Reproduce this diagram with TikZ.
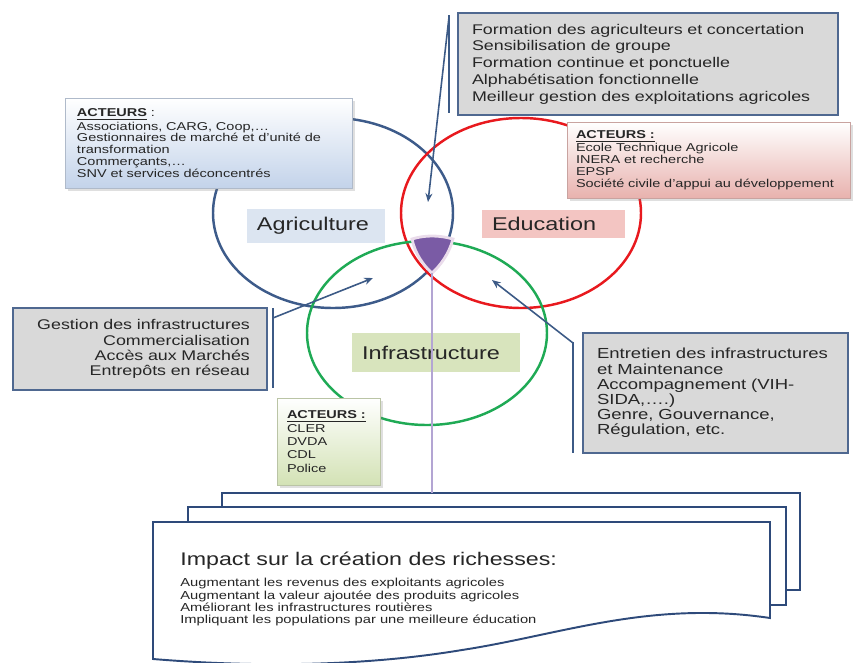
\documentclass[tikz,border=0pt]{standalone}
\usepackage{fontspec}
\setmainfont{Liberation Sans}[FakeStretch=1.27]
\usepackage{xcolor}
\usepackage{tikz}
\usetikzlibrary{shapes,arrows,positioning,calc,shadows,arrows.meta}

\definecolor{agriblue}{HTML}{3D5B8A}
\definecolor{edured}{HTML}{E8191E}
\definecolor{infragreen}{HTML}{1FAA55}
\definecolor{linkblue}{HTML}{3C5A86}
\definecolor{boxgray}{HTML}{D9D9D9}
\definecolor{boxrim}{HTML}{4F6890}
\definecolor{agrifill}{HTML}{DCE5F1}
\definecolor{edufill}{HTML}{F3C5C2}
\definecolor{infrafill}{HTML}{D8E4BD}
\definecolor{agriact}{HTML}{C3D3EA}
\definecolor{eduact}{HTML}{E8B2AE}
\definecolor{infraact}{HTML}{D3E2B5}
\definecolor{corepurple}{HTML}{7A5BA5}
\definecolor{corerim}{HTML}{EADCEB}
\definecolor{stemlilac}{HTML}{B3A5D3}
\definecolor{docrim}{HTML}{2E4A7A}

\begin{document}
\begin{tikzpicture}[x=0.02cm, y=-0.02cm, font=\fontsize{8}{9.5}\selectfont, text=black!85,
    ring/.style={line width=1.4pt},
    venntag/.style={anchor=north west, align=left, inner xsep=0.2cm, inner ysep=0pt, outer sep=0pt, font=\fontsize{10.5}{12}\selectfont},
    actorbox/.style={anchor=north west, align=left, inner ysep=0pt, outer sep=0pt, draw=#1!70!gray, line width=0.4pt, top color=white, bottom color=#1, drop shadow={shadow xshift=1.5pt, shadow yshift=-1.5pt, opacity=0.25}, font=\fontsize{6.5}{6.7}\selectfont},
    taskbox/.style={anchor=north west, inner ysep=0pt, outer sep=0pt, draw=boxrim, line width=1.5pt, fill=boxgray},
    bracket/.style={draw=linkblue, line width=1.1pt},
    pointer/.style={draw=linkblue, line width=0.9pt, -{Stealth[length=5pt,width=4pt]}},
    page/.style={draw=docrim, line width=1.1pt, fill=white}
]
\useasboundingbox (0,0) rectangle (856,663);

% Circles
\draw[ring, agriblue] (333,213) ellipse [x radius=120, y radius=95];
\draw[ring, edured] (521,213) ellipse [x radius=120, y radius=95];
\draw[ring, infragreen] (427,333) ellipse [x radius=120, y radius=92];

% Core of the three circles
\draw[corerim, line width=1.6pt, fill=corepurple] (412,239) .. controls (425,235) and (439,235) .. (453,239) .. controls (449,254) and (440,266) .. (432,273) .. controls (424,266) and (415,254) .. (412,239) -- cycle;
\coordinate (core) at (432,273);

% Documents
\draw[page] (222,507) -- (222,493) -- (800,493) -- (800,590) -- (786,590);
\draw[page] (188,522) -- (188,507) -- (786,507) -- (786,605) -- (770,605);
\draw[page] (153,522) -- (770,522) -- (770,618) .. controls (650,600) and (560,635) .. (462,650) .. controls (360,667) and (250,667) .. (153,659) -- cycle;
\coordinate (pagetop) at (432,493);

\node[anchor=base west, inner sep=0pt, font=\fontsize{10.4}{12}\selectfont] (impact) at (180,565) {Impact sur la création des richesses:};
\node[anchor=north west, inner sep=0pt, align=left, font=\fontsize{6.6}{7}\selectfont] (gains) at (180,578) {Augmentant les revenus des exploitants agricoles\\Augmentant la valeur ajoutée des produits agricoles\\Améliorant les infrastructures routières\\Impliquant les populations par une meilleure éducation};

% Venn labels
\node[venntag, fill=agrifill, text width=2.36cm, minimum height=0.68cm] (agritag) at (247,209) {Agriculture};
\node[venntag, fill=edufill, text width=2.46cm, minimum height=0.56cm] (edutag) at (482,210) {Education};
\node[venntag, fill=infrafill, text width=2.96cm, minimum height=0.78cm] (infratag) at (352,333) {Infrastructure};

% Stem to the documents
\draw[stemlilac, line width=1.3pt] (core) -- (pagetop);

% Actors
\node[actorbox=agriact, text width=5.26cm, inner xsep=0.24cm, minimum height=1.8cm] (agriactors) at (65,98) {\underline{\textbf{ACTEURS}} :\\Associations, CARG, Coop,…\\Gestionnaires de marché et d’unité de\\transformation\\Commerçants,…\\SNV et services déconcentrés};
\node[actorbox=eduact, text width=5.3cm, inner xsep=0.18cm, minimum height=1.52cm] (eduactors) at (567,122) {\underline{\textbf{ACTEURS :}}\\Ecole Technique Agricole\\INERA et recherche\\EPSP\\Société civile d’appui au développement};
\node[actorbox=infraact, text width=1.66cm, inner xsep=0.2cm, minimum height=1.74cm, font=\fontsize{6.5}{7.6}\selectfont] (infraactors) at (277,398) {\underline{\textbf{ACTEURS :}}\\CLER\\DVDA\\CDL\\Police};

% Actions
\node[taskbox, text width=7.04cm, inner xsep=0.28cm, minimum height=2.04cm, align=left] (tasks) at (458,13) {Formation des agriculteurs et concertation\\Sensibilisation de groupe\\Formation continue et ponctuelle\\Alphabétisation fonctionnelle\\Meilleur gestion des exploitations agricoles};
\node[taskbox, text width=4.4cm, inner xsep=0.34cm, minimum height=1.64cm, align=right, font=\fontsize{8}{8.6}\selectfont] (marketing) at (13,308) {Gestion des infrastructures\\Commercialisation\\Accès aux Marchés\\Entrepôts en réseau};
\node[taskbox, text width=4.74cm, inner xsep=0.28cm, minimum height=2.4cm, align=left, font=\fontsize{8.3}{8.6}\selectfont] (upkeep) at (583,333) {Entretien des infrastructures\\et Maintenance\\Accompagnement (VIH-\\SIDA,….)\\Genre, Gouvernance,\\Régulation, etc.};

% Brackets and arrows
\coordinate (topaim) at (428,202);
\coordinate (agriaim) at (373,278);
\coordinate (eduaim) at (492,280);
\draw[bracket] ([xshift=-0.18cm, yshift=-0.04cm]tasks.north west) -- ([xshift=-0.18cm, yshift=0.04cm]tasks.south west);
\draw[pointer] ([xshift=-0.18cm, yshift=-0.08cm]tasks.north west) -- (topaim);
\draw[bracket] ([xshift=0.12cm]marketing.north east) -- ([xshift=0.12cm, yshift=0.04cm]marketing.south east);
\draw[pointer] ([xshift=0.12cm, yshift=-0.2cm]marketing.north east) -- (agriaim);
\draw[bracket] ([xshift=-0.2cm, yshift=-0.18cm]upkeep.north west) -- ([xshift=-0.2cm]upkeep.south west);
\draw[pointer] ([xshift=-0.2cm, yshift=-0.2cm]upkeep.north west) -- (eduaim);

\end{tikzpicture}
\end{document}
